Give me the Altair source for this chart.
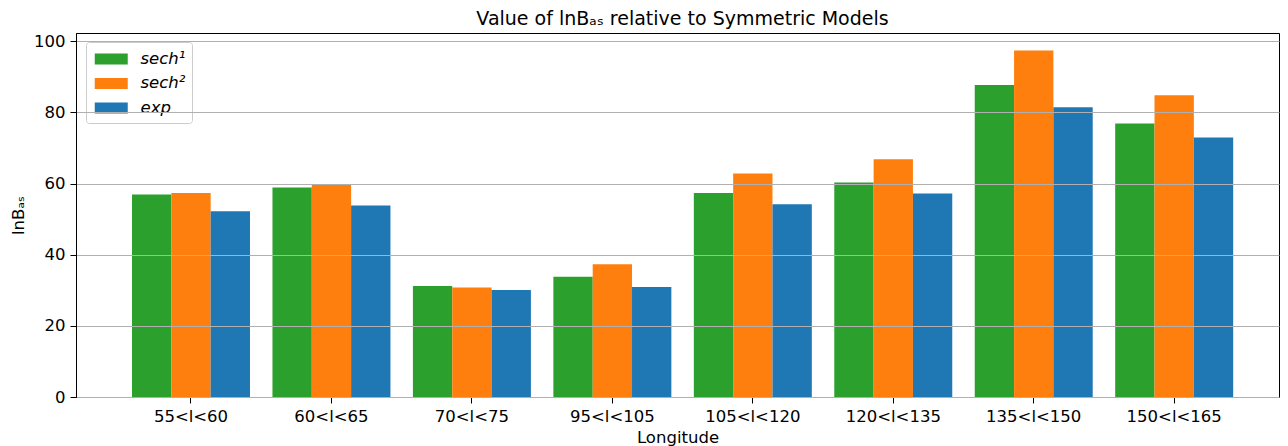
import altair as alt
import pandas as pd

regions = ["55<l<60", "60<l<65", "70<l<75", "95<l<105",
           "105<l<120", "120<l<135", "135<l<150", "150<l<165"]
models = ["sech¹", "sech²", "exp"]
sech1_vals = [56.9, 58.9, 31.2, 33.8, 57.3, 60.3, 87.7, 76.9]
sech2_vals = [57.3, 59.8, 30.8, 37.3, 62.8, 66.8, 97.4, 84.8]
exp_vals = [52.2, 53.8, 30.1, 30.9, 54.2, 57.2, 81.4, 72.9]
colors = ["#2ca02c", "#ff7f0e", "#1f77b4"]
y_ticks = [0, 20, 40, 60, 80, 100]

rows = []
for m, vals in zip(models, [sech1_vals, sech2_vals, exp_vals]):
    for r, v in zip(regions, vals):
        rows.append({"region": r, "model": m, "value": v})
df = pd.DataFrame(rows)

FONT = "DejaVu Sans"
FS = 16.5

chart = alt.Chart(df).mark_bar().encode(
    x=alt.X("region:N", sort=regions, title="Longitude",
            scale=alt.Scale(paddingInner=0.16, paddingOuter=0.3625, align=0.55),
            axis=alt.Axis(labelAngle=0, grid=False, labelPadding=5, titlePadding=5)),
    xOffset=alt.XOffset("model:N", sort=models),
    y=alt.Y("value:Q", title="lnBₐₛ",
            scale=alt.Scale(domain=[0, 102.3], nice=False, zero=True),
            axis=alt.Axis(values=y_ticks, grid=True, gridColor="#b0b0b0", gridWidth=1,
                          labelPadding=5, titlePadding=7, zindex=1)),
    color=alt.Color("model:N", sort=models,
                    scale=alt.Scale(domain=models, range=colors),
                    legend=alt.Legend(title=" ", titleFontSize=1, titlePadding=1.7,
                                      orient="none", legendX=10, legendY=9,
                                      symbolType="M-1,-1L5,-1L5,1L-1,1Z",
                                      symbolSize=121, symbolStrokeWidth=0,
                                      symbolOpacity=1,
                                      labelFont=FONT, labelFontSize=FS,
                                      labelFontStyle="italic", labelColor="black",
                                      labelOffset=32, rowPadding=7.5,
                                      padding=6, strokeColor="#cccccc",
                                      fillColor="rgba(255,255,255,0.8)",
                                      cornerRadius=3)),
).properties(
    width=1203, height=364,
    title=alt.TitleParams("Value of lnBₐₛ relative to Symmetric Models",
                          font=FONT, fontSize=19, fontWeight="normal",
                          color="black", anchor="middle", offset=4, dx=5),
    padding={"left": 68, "top": 25, "right": 1, "bottom": 49},
    autosize=alt.AutoSizeParams(type="none"),
).configure_view(
    stroke="black", strokeWidth=1
).configure_axis(
    domainColor="black", domainWidth=1, tickColor="black", tickSize=6,
    labelColor="black", labelFont=FONT, labelFontSize=FS,
    titleColor="black", titleFont=FONT, titleFontSize=FS, titleFontWeight="normal",
)

chart.save("out.html", embed_options={"renderer": "svg", "actions": False})
